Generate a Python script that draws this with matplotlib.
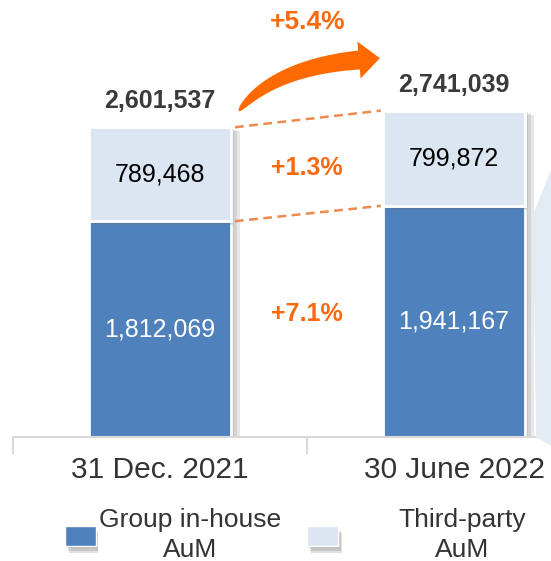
import numpy as np
import matplotlib.pyplot as plt
import matplotlib.patheffects as pe
from matplotlib.patches import Polygon, Rectangle

plt.rcParams["font.family"] = ["Liberation Sans", "DejaVu Sans"]

# AuM figures by reporting date
periods = ["31 Dec. 2021", "30 June 2022"]
inhouse = [1812069, 1941167]
third_party = [789468, 799872]
totals = [2601537, 2741039]
growth_total = "+5.4%"
growth_third = "+1.3%"
growth_inhouse = "+7.1%"
legend_labels = ["Group in-house\nAuM", "Third-party\nAuM"]

BLUE = "#4F81BD"
LIGHT = "#DCE6F2"
ORANGE = "#F96A0E"
DASH = "#EE8A4E"
GRID = "#D9D9D9"

W, H = 551, 561
fig = plt.figure(figsize=(W / 100, H / 100), dpi=100)


def fx(px):
    return px / W


def fy(py):
    return 1 - py / H


def soft_shadow(dx, dy, color="#707070"):
    layers = [pe.SimplePatchShadow(offset=(dx * k / 3, dy * k / 3), shadow_rgbFace=color,
                                   alpha=0.16) for k in (3, 2, 1)]
    return layers + [pe.Normal()]


ax = fig.add_axes([fx(13), fy(437), 588 / W, 437 / H])
ax.set_xlim(-0.5, 1.5)
ax.set_ylim(0, 3.67e6)

x = np.arange(len(periods))
bw = 0.486

b1 = ax.bar(x, inhouse, bw, color=BLUE, edgecolor="white", linewidth=2, zorder=2)
b2 = ax.bar(x, third_party, bw, bottom=inhouse, color=LIGHT, edgecolor="white",
            linewidth=2, zorder=3)
for p in list(b1) + list(b2):
    p.set_path_effects(soft_shadow(6, -3))

for i in x:
    ax.text(i, inhouse[i] / 2, f"{inhouse[i]:,}", ha="center", va="center",
            fontsize=18, color="white", zorder=5)
    ax.text(i, inhouse[i] + third_party[i] / 2, f"{third_party[i]:,}", ha="center",
            va="center", fontsize=18, color="black", zorder=5)
    ax.annotate(f"{totals[i]:,}", (i, totals[i]), xytext=(0, 10), textcoords="offset points",
                ha="center", va="bottom", fontsize=18, fontweight="bold", color="#3a3a3a")

# dashed connectors between the two bars
x0, x1 = 0 + bw / 2 + 0.012, 1 - bw / 2 - 0.006
ax.plot([x0, x1], [totals[0], totals[1]], ls=(0, (3.5, 2.2)), color=DASH, lw=1.8, zorder=4)
ax.plot([x0, x1], [inhouse[0], inhouse[1]], ls=(0, (3.5, 2.2)), color=DASH, lw=1.8, zorder=4)

ax.text(0.5, 2.26e6, growth_third, ha="center", va="center", fontsize=18,
        fontweight="bold", color=ORANGE)
ax.text(0.5, 1.03e6, growth_inhouse, ha="center", va="center", fontsize=18,
        fontweight="bold", color=ORANGE)

for s in ["left", "right", "top"]:
    ax.spines[s].set_visible(False)
ax.spines["bottom"].set_color(GRID)
ax.spines["bottom"].set_linewidth(1.5)
ax.set_yticks([])
ax.set_xticks(x)
ax.set_xticklabels(periods, fontsize=21.5, color="#333333")
ax.tick_params(axis="x", which="major", length=0, pad=13.5)
ax.set_xticks([-0.5, 0.5, 1.5], minor=True)
ax.tick_params(axis="x", which="minor", length=12, width=1.5, color=GRID)

# curved growth arrow (cubic centreline with a tapering shaft)
P0 = np.array([239.0, 111.0])
C1 = np.array([255.0, 90.0])
C2 = np.array([290.0, 66.0])
P2 = np.array([359.0, 60.0])
t = np.linspace(0, 1, 80)[:, None]
pts = ((1 - t) ** 3 * P0 + 3 * (1 - t) ** 2 * t * C1
       + 3 * (1 - t) * t ** 2 * C2 + t ** 3 * P2)
der = (3 * (1 - t) ** 2 * (C1 - P0) + 6 * (1 - t) * t * (C2 - C1)
       + 3 * t ** 2 * (P2 - C2))
tang = der / np.linalg.norm(der, axis=1, keepdims=True)
norm = np.column_stack([tang[:, 1], -tang[:, 0]])
half = (0.5 + 18.5 * t[:, 0] ** 0.5) / 2
upper = pts + norm * half[:, None]
lower = pts - norm * half[:, None]
tip_dir = tang[-1]
tip_n = norm[-1]
head = [P2 + tip_n * 18.5, P2 + tip_dir * 21, P2 - tip_n * 18.5]
shape = np.vstack([upper, head, lower[::-1]])
fig.patches.append(Polygon(np.column_stack([fx(shape[:, 0]), fy(shape[:, 1])]),
                           closed=True, transform=fig.transFigure, facecolor="#FF6A00",
                           edgecolor="none", zorder=6))
fig.text(fx(308), fy(22), growth_total, ha="center", va="center", fontsize=19,
         fontweight="bold", color=ORANGE)

# partial shape at the right edge
edge = np.array([[533, 215], [551, 170], [551, 446], [536, 437]], dtype=float)
fig.patches.append(Polygon(np.column_stack([fx(edge[:, 0]), fy(edge[:, 1])]), closed=True,
                           transform=fig.transFigure, facecolor="#E3EBF5",
                           edgecolor="none", zorder=1))

# legend
for (lx, col, tx), label in zip([(65, BLUE, 190), (307, LIGHT, 462)], legend_labels):
    sq = Rectangle((fx(lx), fy(546)), fx(31), 20 / H, transform=fig.transFigure,
                   facecolor=col, edgecolor="white", linewidth=1)
    sq.set_path_effects(soft_shadow(3, -5, "#404040"))
    fig.patches.append(sq)
    fig.text(fx(tx), fy(535), label, ha="center", va="center", fontsize=19,
             color="#333333", linespacing=1.3,
             bbox=dict(boxstyle="square,pad=0.05", facecolor="white", edgecolor="none"))

fig.savefig("out.png", dpi=100)
